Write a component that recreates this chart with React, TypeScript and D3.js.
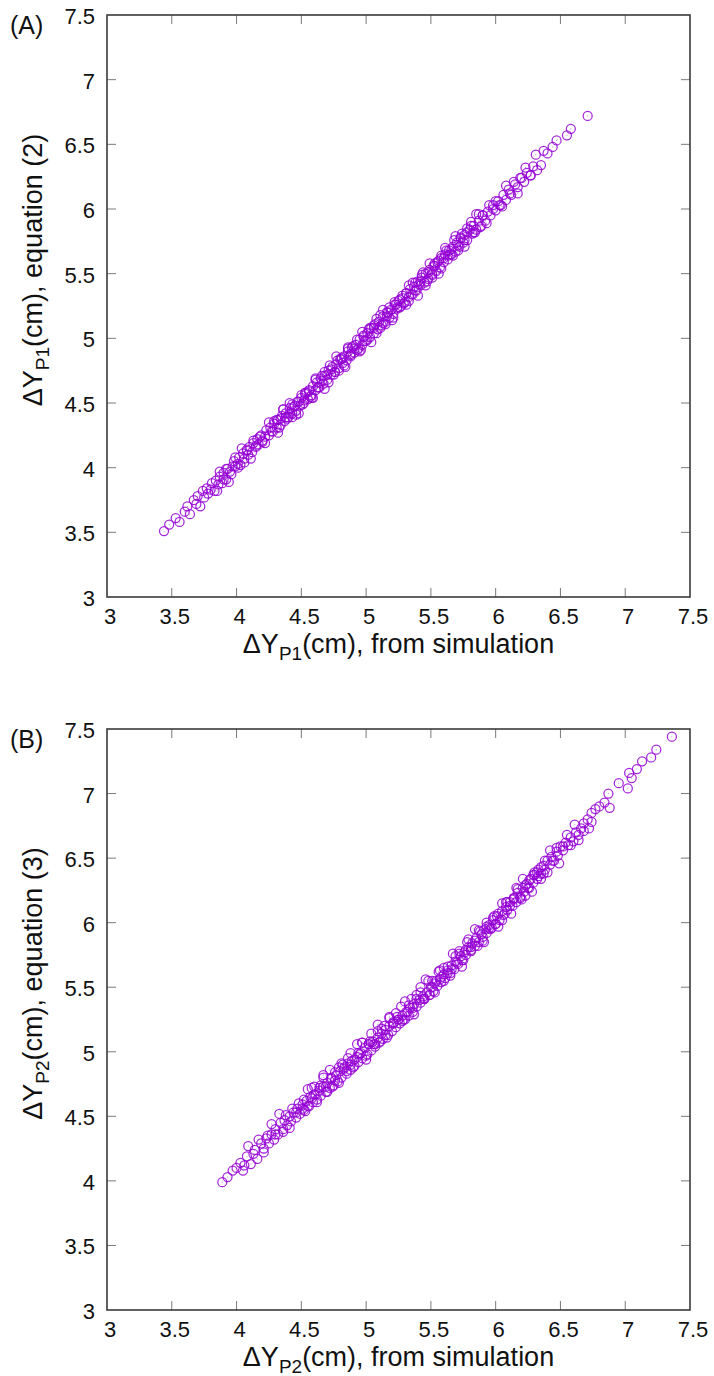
import React from "react";
import * as d3 from "d3";

const tickValues = [3, 3.5, 4, 4.5, 5, 5.5, 6, 6.5, 7, 7.5];
const axisDomain = [3, 7.5];

const panelLabels = ["(A)", "(B)"];
const subscripts = ["P1", "P2"];
const equationNames = ["equation (2)", "equation (3)"];

// ---------- Panel A: ΔY_P1 from simulation (x) vs equation (2) (y) ----------
const simA1 = [
  3.44, 3.48, 3.53, 3.56, 3.6, 3.62, 3.64, 3.67, 3.69, 3.7, 3.72, 3.74, 3.75, 3.77, 3.78, 3.8, 3.81, 3.83, 3.84, 3.86,
  3.87, 3.89, 3.9, 3.92, 3.93, 3.95, 3.96, 3.98, 3.99, 4.01, 4.02, 4.03, 4.05, 4.06, 4.08, 4.09, 4.1, 4.12, 4.13, 4.15,
  4.16, 4.17, 4.19, 4.2, 4.22, 4.23, 4.25, 4.26, 4.28, 4.29, 4.31, 4.32, 4.34, 4.35, 4.37, 4.38, 4.4, 4.41, 4.43, 4.44,
  4.46, 4.47, 4.49, 4.5, 4.52, 4.53, 4.55, 4.56, 4.58, 4.59, 4.61, 4.62, 4.64, 4.65, 4.67, 4.68, 4.7, 4.71, 4.73, 4.74,
  4.76, 4.77, 4.79, 4.8, 4.82, 4.83, 4.85, 4.86, 4.88, 4.89, 4.91, 4.92, 4.94, 4.95, 4.97, 4.98, 5.0, 5.01, 5.03, 5.04,
  5.06, 5.07, 5.09, 5.1, 5.12, 5.13, 5.15, 5.16, 5.18, 5.19, 5.21, 5.22, 5.24, 5.25, 5.27, 5.28, 5.3, 5.31, 5.33, 5.34,
  5.36, 5.37, 5.39, 5.4, 5.42, 5.43, 5.45, 5.46, 5.48, 5.49, 5.51, 5.52, 5.54, 5.55, 5.57, 5.58, 5.6, 5.61, 5.63, 5.64,
  5.66, 5.67, 5.69, 5.7, 5.72, 5.73, 5.75, 5.76, 5.78, 5.8, 5.82, 5.83, 5.85, 5.87, 5.89, 5.9, 5.92, 5.94, 5.96, 5.98,
  6.0, 6.02, 6.04, 6.06, 6.08, 6.1, 6.12, 6.15, 6.17, 6.19, 6.22, 6.24, 6.27, 6.29, 6.32, 6.35, 6.37, 6.4, 6.44, 6.47,
  6.55, 6.58, 6.71,
];
const eqnA1 = [
  3.51, 3.56, 3.61, 3.58, 3.66, 3.7, 3.64, 3.75, 3.72, 3.78, 3.7, 3.82, 3.77, 3.84, 3.8, 3.83, 3.88, 3.82, 3.9, 3.87,
  3.93, 3.88, 3.96, 3.91, 3.99, 3.97, 3.95, 4.05, 4.01, 4.03, 4.08, 4.02, 4.11, 4.07, 4.14, 4.1, 4.16, 4.12, 4.19, 4.16,
  4.22, 4.18, 4.25, 4.21, 4.24, 4.29, 4.25, 4.31, 4.28, 4.34, 4.31, 4.37, 4.33, 4.4, 4.36, 4.42, 4.39, 4.46, 4.42, 4.47,
  4.44, 4.51, 4.48, 4.54, 4.5, 4.57, 4.53, 4.59, 4.56, 4.63, 4.6, 4.66, 4.62, 4.69, 4.65, 4.71, 4.68, 4.75, 4.72, 4.78,
  4.74, 4.8, 4.77, 4.84, 4.81, 4.86, 4.83, 4.9, 4.86, 4.93, 4.89, 4.95, 4.92, 4.99, 4.95, 5.02, 4.98, 5.04, 5.01, 5.08,
  5.04, 5.11, 5.07, 5.13, 5.1, 5.17, 5.13, 5.2, 5.16, 5.22, 5.19, 5.26, 5.23, 5.29, 5.25, 5.31, 5.28, 5.35, 5.32, 5.38,
  5.34, 5.4, 5.37, 5.44, 5.41, 5.47, 5.43, 5.5, 5.46, 5.53, 5.5, 5.56, 5.52, 5.59, 5.55, 5.62, 5.59, 5.65, 5.61, 5.68,
  5.65, 5.71, 5.67, 5.74, 5.71, 5.77, 5.74, 5.8, 5.76, 5.84, 5.81, 5.87, 5.84, 5.91, 5.87, 5.95, 5.91, 5.98, 5.95, 6.03,
  5.99, 6.06, 6.03, 6.11, 6.07, 6.15, 6.11, 6.19, 6.17, 6.24, 6.21, 6.28, 6.26, 6.33, 6.3, 6.34, 6.45, 6.43, 6.48, 6.53,
  6.57, 6.62, 6.72,
];
const simA2 = [
  3.85, 3.87, 3.9, 3.92, 3.94, 3.97, 3.99, 4.01, 4.04, 4.06, 4.08, 4.11, 4.13, 4.15, 4.18, 4.2, 4.22, 4.25, 4.27, 4.29,
  4.32, 4.34, 4.36, 4.39, 4.41, 4.43, 4.45, 4.48, 4.5, 4.52, 4.54, 4.57, 4.59, 4.61, 4.63, 4.66, 4.68, 4.7, 4.72, 4.75,
  4.77, 4.79, 4.81, 4.84, 4.86, 4.88, 4.9, 4.93, 4.95, 4.97, 4.99, 5.02, 5.04, 5.06, 5.08, 5.11, 5.13, 5.15, 5.17, 5.2,
  5.22, 5.24, 5.26, 5.29, 5.31, 5.33, 5.35, 5.38, 5.4, 5.42, 5.44, 5.47, 5.49, 5.51, 5.53, 5.56, 5.58, 5.6, 5.62, 5.65,
  5.67, 5.69, 5.71, 5.74, 5.76, 5.78, 5.81, 5.83, 5.85, 5.88, 5.9, 5.93, 5.95, 5.98, 6.0, 6.03, 6.05, 6.08, 6.11, 6.14,
  6.17, 6.2, 6.23, 6.27, 6.31,
];
const eqnA2 = [
  3.82, 3.97, 3.91, 3.99, 3.89, 4.01, 4.08, 4.0, 4.15, 4.04, 4.13, 4.07, 4.21, 4.17, 4.24, 4.2, 4.19, 4.35, 4.28, 4.36,
  4.27, 4.38, 4.45, 4.38, 4.5, 4.39, 4.48, 4.42, 4.56, 4.52, 4.58, 4.55, 4.54, 4.69, 4.62, 4.71, 4.61, 4.72, 4.79, 4.72,
  4.86, 4.75, 4.84, 4.78, 4.92, 4.88, 4.94, 4.91, 4.9, 5.05, 4.98, 5.07, 4.97, 5.08, 5.15, 5.08, 5.22, 5.11, 5.2, 5.14,
  5.28, 5.24, 5.3, 5.27, 5.26, 5.41, 5.34, 5.43, 5.33, 5.44, 5.51, 5.44, 5.58, 5.47, 5.56, 5.5, 5.64, 5.62, 5.68, 5.65,
  5.64, 5.79, 5.72, 5.81, 5.71, 5.82, 5.9, 5.82, 5.96, 5.86, 5.95, 5.89, 6.03, 6.0, 6.06, 6.03, 6.02, 6.18, 6.12, 6.21,
  6.12, 6.24, 6.32, 6.26, 6.42,
];
const simA3 = [
  4.31, 4.33, 4.36, 4.38, 4.41, 4.43, 4.46, 4.48, 4.51, 4.53, 4.56, 4.58, 4.61, 4.63, 4.66, 4.68, 4.71, 4.73, 4.76, 4.78,
  4.81, 4.83, 4.86, 4.88, 4.91, 4.93, 4.96, 4.98, 5.01, 5.03, 5.06, 5.08, 5.11, 5.13, 5.16, 5.18, 5.21, 5.23, 5.26, 5.28,
  5.31, 5.33, 5.36, 5.38, 5.41, 5.43, 5.46, 5.48, 5.51, 5.53, 5.56, 5.58, 5.61, 5.63, 5.66, 5.68, 5.71, 5.73, 5.76, 5.78,
  5.81, 5.84, 5.87,
];
const eqnA3 = [
  4.37, 4.31, 4.45, 4.39, 4.42, 4.49, 4.41, 4.51, 4.49, 4.58, 4.6, 4.54, 4.68, 4.62, 4.67, 4.74, 4.66, 4.76, 4.74, 4.83,
  4.85, 4.79, 4.93, 4.87, 4.92, 4.99, 4.91, 5.01, 4.99, 5.08, 5.1, 5.04, 5.18, 5.12, 5.17, 5.24, 5.16, 5.26, 5.24, 5.33,
  5.35, 5.29, 5.43, 5.37, 5.42, 5.49, 5.41, 5.51, 5.49, 5.58, 5.6, 5.54, 5.7, 5.64, 5.69, 5.76, 5.68, 5.78, 5.76, 5.85,
  5.87, 5.82, 5.96,
];

// ---------- Panel B: ΔY_P2 from simulation (x) vs equation (3) (y) ----------
const simB1 = [
  3.89, 3.93, 3.97, 4.0, 4.03, 4.06, 4.08, 4.11, 4.14, 4.16, 4.19, 4.21, 4.23, 4.25, 4.27, 4.29, 4.3, 4.32, 4.34, 4.36,
  4.37, 4.39, 4.41, 4.42, 4.44, 4.46, 4.47, 4.49, 4.51, 4.52, 4.54, 4.56, 4.57, 4.59, 4.6, 4.62, 4.64, 4.65, 4.67, 4.69,
  4.7, 4.72, 4.73, 4.75, 4.77, 4.78, 4.8, 4.81, 4.83, 4.85, 4.86, 4.88, 4.89, 4.91, 4.93, 4.94, 4.96, 4.97, 4.99, 5.01,
  5.02, 5.04, 5.05, 5.07, 5.09, 5.1, 5.12, 5.13, 5.15, 5.17, 5.18, 5.2, 5.21, 5.23, 5.25, 5.26, 5.28, 5.29, 5.31, 5.33,
  5.34, 5.36, 5.37, 5.39, 5.41, 5.42, 5.44, 5.45, 5.47, 5.49, 5.5, 5.52, 5.53, 5.55, 5.57, 5.58, 5.6, 5.61, 5.63, 5.65,
  5.66, 5.68, 5.69, 5.71, 5.73, 5.74, 5.76, 5.77, 5.79, 5.81, 5.82, 5.84, 5.85, 5.87, 5.89, 5.9, 5.92, 5.93, 5.95, 5.97,
  5.98, 6.0, 6.01, 6.03, 6.05, 6.06, 6.08, 6.09, 6.11, 6.13, 6.14, 6.16, 6.17, 6.19, 6.21, 6.22, 6.24, 6.25, 6.27, 6.29,
  6.3, 6.32, 6.33, 6.35, 6.37, 6.38, 6.4, 6.42, 6.43, 6.45, 6.47, 6.48, 6.5, 6.52, 6.54, 6.56, 6.58, 6.6, 6.62, 6.64,
  6.66, 6.68, 6.71, 6.74, 6.74, 6.77, 6.8, 6.84, 6.87, 6.88, 6.95, 7.02, 7.03, 7.05, 7.09, 7.13, 7.2, 7.24, 7.36,
];
const eqnB1 = [
  3.99, 4.03, 4.08, 4.1, 4.14, 4.12, 4.19, 4.13, 4.24, 4.17, 4.29, 4.25, 4.33, 4.29, 4.36, 4.32, 4.4, 4.36, 4.45, 4.38,
  4.47, 4.43, 4.5, 4.46, 4.53, 4.49, 4.56, 4.52, 4.59, 4.55, 4.62, 4.58, 4.65, 4.61, 4.67, 4.63, 4.7, 4.66, 4.73, 4.69,
  4.76, 4.72, 4.79, 4.74, 4.82, 4.77, 4.85, 4.8, 4.88, 4.83, 4.91, 4.86, 4.93, 4.89, 4.96, 4.92, 4.99, 4.95, 5.03, 4.98,
  5.06, 5.01, 5.08, 5.04, 5.11, 5.07, 5.14, 5.1, 5.17, 5.13, 5.2, 5.16, 5.22, 5.19, 5.25, 5.22, 5.28, 5.25, 5.31, 5.28,
  5.34, 5.31, 5.37, 5.35, 5.4, 5.38, 5.43, 5.41, 5.46, 5.44, 5.5, 5.47, 5.53, 5.51, 5.56, 5.54, 5.6, 5.57, 5.63, 5.61,
  5.67, 5.64, 5.7, 5.68, 5.74, 5.71, 5.77, 5.75, 5.81, 5.78, 5.84, 5.82, 5.88, 5.85, 5.91, 5.89, 5.95, 5.92, 5.98, 5.96,
  6.02, 5.99, 6.05, 6.02, 6.09, 6.06, 6.12, 6.1, 6.16, 6.13, 6.19, 6.16, 6.23, 6.2, 6.27, 6.24, 6.3, 6.27, 6.34, 6.31,
  6.37, 6.34, 6.41, 6.38, 6.44, 6.41, 6.48, 6.45, 6.51, 6.48, 6.55, 6.52, 6.59, 6.56, 6.62, 6.6, 6.66, 6.63, 6.7, 6.68,
  6.73, 6.71, 6.8, 6.85, 6.78, 6.88, 6.9, 6.93, 7.0, 6.89, 7.08, 7.04, 7.16, 7.12, 7.19, 7.25, 7.28, 7.34, 7.44,
];
const simB2 = [
  4.05, 4.09, 4.13, 4.17, 4.21, 4.24, 4.27, 4.3, 4.33, 4.36, 4.38, 4.41, 4.43, 4.46, 4.48, 4.51, 4.53, 4.55, 4.58, 4.6,
  4.62, 4.65, 4.67, 4.69, 4.72, 4.74, 4.76, 4.79, 4.81, 4.83, 4.86, 4.88, 4.9, 4.93, 4.95, 4.97, 5.0, 5.02, 5.04, 5.07,
  5.09, 5.11, 5.14, 5.16, 5.18, 5.21, 5.23, 5.25, 5.28, 5.3, 5.32, 5.35, 5.37, 5.39, 5.42, 5.44, 5.46, 5.49, 5.51, 5.53,
  5.56, 5.58, 5.6, 5.63, 5.65, 5.67, 5.7, 5.72, 5.74, 5.77, 5.79, 5.81, 5.84, 5.86, 5.88, 5.91, 5.93, 5.95, 5.98, 6.0,
  6.02, 6.05, 6.07, 6.09, 6.12, 6.14, 6.16, 6.19, 6.21, 6.23, 6.26, 6.28, 6.3, 6.33, 6.35, 6.37, 6.4, 6.42, 6.44, 6.47,
  6.49, 6.52, 6.55, 6.58, 6.61, 6.64, 6.68, 6.72,
];
const eqnB2 = [
  4.08, 4.27, 4.21, 4.32, 4.22, 4.35, 4.44, 4.36, 4.52, 4.4, 4.51, 4.41, 4.56, 4.53, 4.6, 4.56, 4.54, 4.71, 4.64, 4.73,
  4.61, 4.74, 4.82, 4.73, 4.86, 4.73, 4.84, 4.76, 4.91, 4.87, 4.95, 4.9, 4.88, 5.06, 4.98, 5.07, 4.94, 5.06, 5.14, 5.06,
  5.21, 5.08, 5.2, 5.11, 5.26, 5.23, 5.3, 5.25, 5.24, 5.39, 5.31, 5.41, 5.29, 5.41, 5.5, 5.41, 5.56, 5.44, 5.55, 5.46,
  5.62, 5.58, 5.65, 5.61, 5.59, 5.76, 5.69, 5.78, 5.66, 5.79, 5.87, 5.79, 5.95, 5.82, 5.93, 5.85, 6.0, 5.96, 6.04, 5.99,
  5.97, 6.15, 6.07, 6.16, 6.07, 6.19, 6.27, 6.19, 6.34, 6.21, 6.33, 6.24, 6.39, 6.36, 6.43, 6.38, 6.39, 6.56, 6.48, 6.58,
  6.46, 6.59, 6.68, 6.6, 6.76, 6.64, 6.77, 6.73,
];
const simB3 = [
  4.52, 4.55, 4.58, 4.61, 4.64, 4.67, 4.7, 4.73, 4.76, 4.79, 4.82, 4.85, 4.88, 4.91, 4.94, 4.97, 5.0, 5.03, 5.06, 5.09,
  5.12, 5.15, 5.18, 5.21, 5.24, 5.27, 5.3, 5.33, 5.36, 5.39, 5.42, 5.45, 5.48, 5.51, 5.54, 5.57, 5.6, 5.63, 5.66, 5.69,
  5.72, 5.75, 5.78, 5.81, 5.84, 5.87, 5.9, 5.93, 5.96, 5.99, 6.02, 6.05, 6.08, 6.11, 6.14, 6.17, 6.2, 6.23, 6.26, 6.29,
  6.32, 6.35, 6.38,
];
const eqnB3 = [
  4.63, 4.58, 4.72, 4.67, 4.72, 4.8, 4.69, 4.8, 4.78, 4.88, 4.9, 4.85, 4.99, 4.94, 4.99, 5.07, 4.97, 5.08, 5.06, 5.16,
  5.18, 5.13, 5.27, 5.22, 5.27, 5.35, 5.25, 5.36, 5.34, 5.44, 5.46, 5.41, 5.55, 5.5, 5.55, 5.63, 5.55, 5.66, 5.64, 5.74,
  5.76, 5.71, 5.85, 5.81, 5.86, 5.94, 5.86, 5.97, 5.95, 6.05, 6.07, 6.02, 6.16, 6.13, 6.18, 6.26, 6.18, 6.29, 6.27, 6.37,
  6.39, 6.34, 6.48,
];

const FONT = "'Liberation Sans', Arial, Helvetica, sans-serif";
const LEFT = 107;
const RIGHT = 690;
const panels = [
  { top: 15, bottom: 597, sets: [[simA1, eqnA1], [simA2, eqnA2], [simA3, eqnA3]] },
  { top: 729, bottom: 1310, sets: [[simB1, eqnB1], [simB2, eqnB2], [simB3, eqnB3]] },
];

function Panel({ idx }: { idx: number }) {
  const p = panels[idx];
  const x = d3.scaleLinear().domain(axisDomain).range([LEFT, RIGHT]);
  const y = d3.scaleLinear().domain(axisDomain).range([p.bottom, p.top]);
  const tickLen = 9;
  const tickColor = "#7a7a7a";
  const midX = (LEFT + RIGHT) / 2;
  const midY = (p.top + p.bottom) / 2;
  const pts: [number, number][] = [];
  p.sets.forEach(([xs, ys]) => {
    const n = Math.min(xs.length, ys.length);
    for (let i = 0; i < n; i++) pts.push([xs[i], ys[i]]);
  });
  return (
    <g>
      {tickValues.slice(1, -1).map((t) => (
        <g key={"t" + t}>
          <line x1={x(t)} x2={x(t)} y1={p.bottom} y2={p.bottom - tickLen} stroke={tickColor} strokeWidth={1} />
          <line x1={x(t)} x2={x(t)} y1={p.top} y2={p.top + tickLen} stroke={tickColor} strokeWidth={1} />
          <line x1={LEFT} x2={LEFT + tickLen} y1={y(t)} y2={y(t)} stroke={tickColor} strokeWidth={1} />
          <line x1={RIGHT} x2={RIGHT - tickLen} y1={y(t)} y2={y(t)} stroke={tickColor} strokeWidth={1} />
        </g>
      ))}
      <rect x={LEFT} y={p.top} width={RIGHT - LEFT} height={p.bottom - p.top} fill="none" stroke="#3a3a3a" strokeWidth={1.6} />
      {tickValues.map((t) => (
        <text key={"xl" + t} x={x(t) + 3} y={p.bottom + 27} textAnchor="middle" fontFamily={FONT} fontSize={22} fill="#111">
          {String(t)}
        </text>
      ))}
      {tickValues.map((t) => (
        <text key={"yl" + t} x={LEFT - 12} y={y(t) + 9} textAnchor="end" fontFamily={FONT} fontSize={22} fill="#111">
          {String(t)}
        </text>
      ))}
      <text x={midX} y={p.bottom + 56} textAnchor="middle" fontFamily={FONT} fontSize={27} fill="#111">
        <tspan>ΔY</tspan>
        <tspan dy={7} fontSize={19}>{subscripts[idx]}</tspan>
        <tspan dy={-7}>(cm), from simulation</tspan>
      </text>
      <text
        transform={`translate(42,${midY - 36}) rotate(-90)`}
        textAnchor="middle"
        fontFamily={FONT}
        fontSize={27}
        fill="#111"
      >
        <tspan>ΔY</tspan>
        <tspan dy={7} fontSize={19}>{subscripts[idx]}</tspan>
        <tspan dy={-7}>{"(cm), " + equationNames[idx]}</tspan>
      </text>
      <text x={10} y={p.top + 19} fontFamily={FONT} fontSize={25} fill="#111">
        {panelLabels[idx]}
      </text>
      {pts.map(([a, b], i) => (
        <g key={"p" + i}>
          <circle cx={x(a)} cy={y(b)} r={4.5} fill="none" stroke="#9400d3" strokeOpacity={0.85} strokeWidth={1.25} />
          <circle cx={x(a)} cy={y(b)} r={0.6} fill="#9400d3" fillOpacity={0.45} />
        </g>
      ))}
    </g>
  );
}

export default function App() {
  return (
    <svg width={714} height={1376} style={{ position: "absolute", left: 0, top: 0, background: "#fff" }}>
      <rect x={0} y={0} width={714} height={1376} fill="#fff" />
      <Panel idx={0} />
      <Panel idx={1} />
    </svg>
  );
}
